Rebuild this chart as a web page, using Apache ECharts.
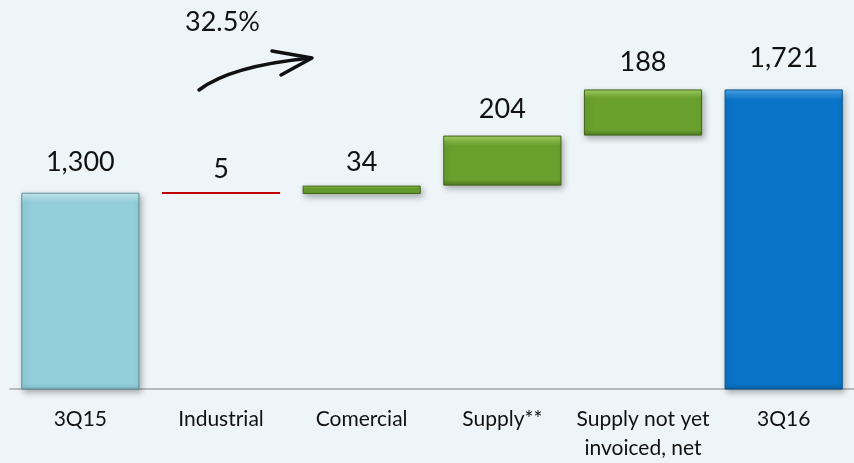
<!DOCTYPE html>
<html>
<head>
<meta charset="utf-8">
<script src="https://cdn.jsdelivr.net/npm/echarts@6/dist/echarts.min.js"></script>
<style>
  html, body { margin: 0; padding: 0; background: #eef5f8; }
  #chart { width: 854px; height: 463px; }
</style>
</head>
<body>
<div id="chart"></div>
<script>
const categories = ["3Q15", "Industrial", "Comercial", "Supply**", "Supply not yet\ninvoiced, net", "3Q16"];
// invisible base of each floating bar
const baseValues = [0, 1295, 1295, 1329, 1533, 0];
// visible change / total
const changeValues = [1300, 5, 34, 204, 188, 1721];
const growthLabel = "32.5%";

// bevel look: [top light, main, bottom dark, border, bevel fraction, label gap]
const looks = [
  ["#c9eef6", "#93cfdb", "#7db9c5", "#5f8f9a", 0.05, 17],
  ["#c00000", "#c00000", "#c00000", "#c00000", 0, 9],
  ["#a6d365", "#6aa02e", "#4f7b20", "#3e6318", 0.3, 10],
  ["#a6d365", "#6aa02e", "#4f7b20", "#3e6318", 0.2, 13],
  ["#a6d365", "#6aa02e", "#4f7b20", "#3e6318", 0.2, 14],
  ["#4aa8ee", "#0a74c8", "#0963aa", "#08518c", 0.035, 18],
];

function bevel(l) {
  if (!l[4]) return l[1];
  return new echarts.graphic.LinearGradient(0, 0, 0, 1, [
    { offset: 0, color: l[0] },
    { offset: l[4], color: l[1] },
    { offset: 1 - l[4] * 0.6, color: l[1] },
    { offset: 1, color: l[2] },
  ]);
}

const chart = echarts.init(document.getElementById("chart"));

const option = {
  backgroundColor: "#eef5f8",
  animation: false,
  textStyle: { fontFamily: "Lato" },
  grid: { left: 10, right: -4, top: 21, bottom: 71 },
  xAxis: {
    type: "category",
    data: categories,
    axisLine: { lineStyle: { color: "#a6a6a6", width: 1.5 } },
    axisTick: { length: 6, lineStyle: { color: "#a6a6a6", width: 1.5 } },
    axisLabel: {
      color: "#111",
      fontSize: 21,
      lineHeight: 29,
      margin: 16,
      interval: 0,
    },
  },
  yAxis: {
    type: "value",
    min: 500,
    max: 2000,
    show: false,
    splitLine: { show: false },
  },
  series: [
    {
      name: "base",
      type: "bar",
      stack: "w",
      barWidth: "84%",
      itemStyle: { color: "transparent" },
      emphasis: { disabled: true },
      data: baseValues,
    },
    {
      name: "change",
      type: "bar",
      stack: "w",
      barWidth: "84%",
      barMinHeight: 2,
      label: {
        show: true,
        position: "top",
        color: "#111",
        fontSize: 27,
        formatter: (p) => p.value.toLocaleString("en-US"),
      },
      data: changeValues.map((v, i) => ({
        value: v,
        label: { distance: looks[i][5] },
        itemStyle: {
          color: bevel(looks[i]),
          borderColor: looks[i][3],
          borderWidth: looks[i][4] ? 1 : 0,
          shadowColor: looks[i][4] ? "rgba(0,0,0,0.3)" : "transparent",
          shadowBlur: 6,
          shadowOffsetX: 2,
          shadowOffsetY: 3,
        },
      })),
    },
  ],
  graphic: [
    {
      type: "text",
      left: 185,
      top: 9,
      style: { text: growthLabel, font: "27px Lato", fill: "#111" },
    },
    {
      type: "group",
      children: [
        {
          type: "bezierCurve",
          shape: { x1: 199, y1: 90, x2: 311, y2: 58, cpx1: 225, cpy1: 70, cpx2: 270, cpy2: 62 },
          style: { stroke: "#111", lineWidth: 3.5, fill: null, lineCap: "round" },
        },
        {
          type: "polyline",
          shape: { points: [[272, 51], [312, 58], [281, 75]] },
          style: { stroke: "#111", lineWidth: 3.5, fill: null, lineCap: "round", lineJoin: "round" },
        },
      ],
    },
  ],
};

chart.setOption(option);
</script>
</body>
</html>
